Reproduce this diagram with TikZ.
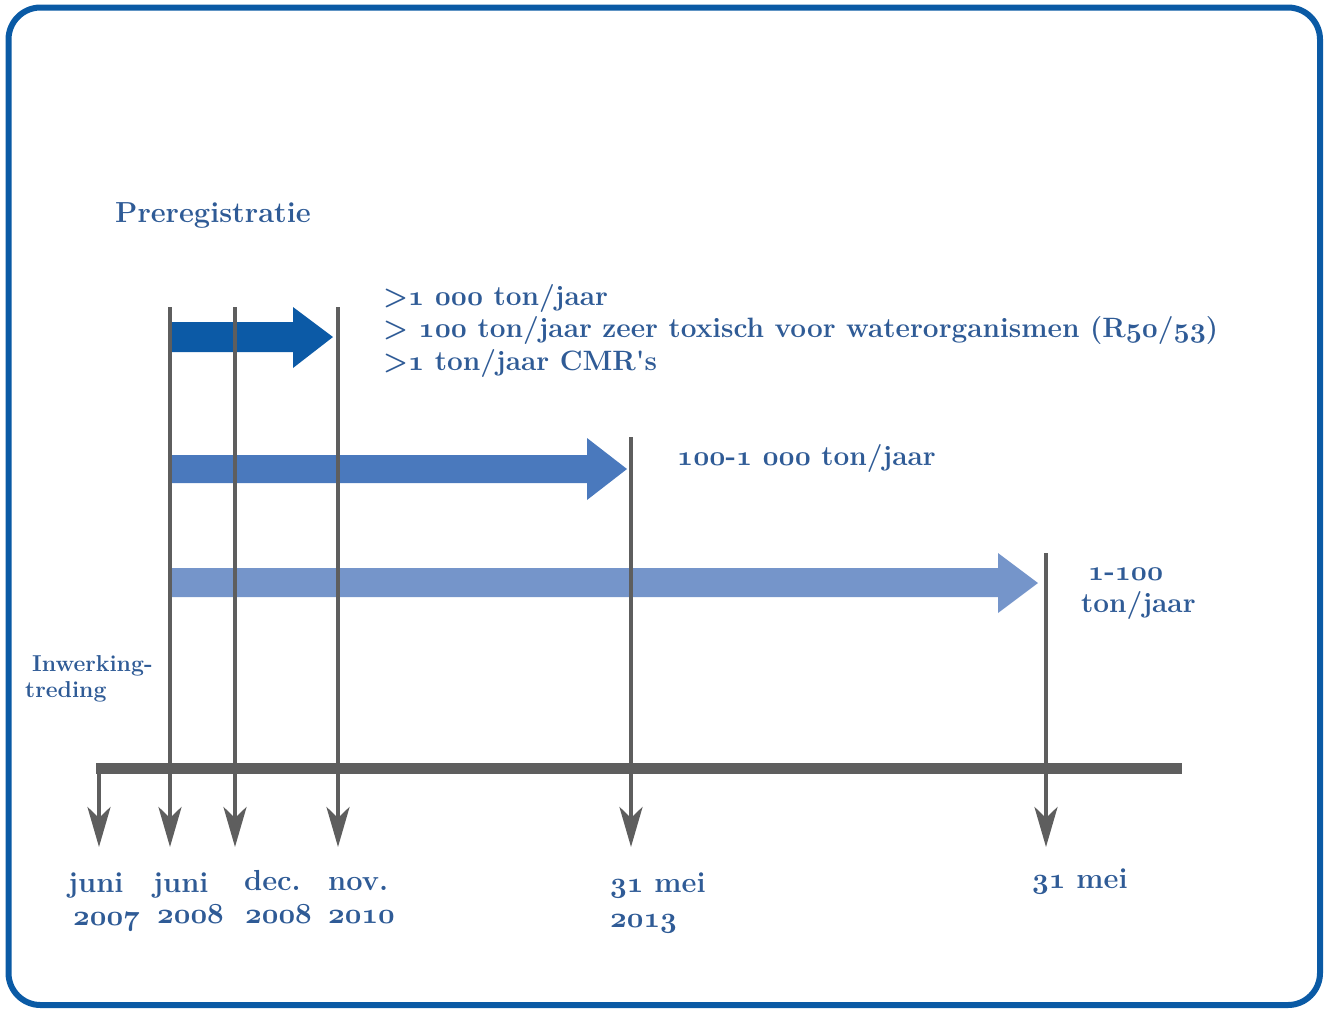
\documentclass[tikz,border=0pt]{standalone}
\usetikzlibrary{arrows.meta}
\DeclareFontFamily{OML}{osfb}{}
\DeclareFontShape{OML}{osfb}{b}{it}{<->cmmib10}{}
\newcommand\od[1]{{\fontencoding{OML}\fontfamily{osfb}\fontseries{b}\fontshape{it}\selectfont #1}}
\definecolor{frameblue}{HTML}{0A5AA5}
\definecolor{txtblue}{HTML}{2F5B96}
\definecolor{arrA}{HTML}{0C5AA6}
\definecolor{arrB}{HTML}{4A79BD}
\definecolor{arrC}{HTML}{7595CA}
\definecolor{axisgray}{HTML}{5E5E5E}
\tikzset{
  txt/.style={text=txtblue, font=\bfseries\fontsize{28}{32}\selectfont, inner sep=0pt, anchor=base west},
  datetxt/.style={txt, font=\bfseries\fontsize{29}{33}\selectfont},
  smalltxt/.style={txt, font=\bfseries\fontsize{23}{27}\selectfont},
  bigtxt/.style={txt, font=\bfseries\fontsize{29}{33}\selectfont},
  tick/.style={draw=axisgray, line width=4.5pt},
  tickarrow/.style={tick, -{Stealth[length=40pt, width=23pt, inset=11pt]}},
}
\begin{document}
\begin{tikzpicture}[x=1pt, y=-1pt]
\useasboundingbox (0,0) rectangle (1327,1010);
% frame
\draw[frameblue, line width=6pt, rounded corners=32pt] (8.5,7.5) rectangle (1320,1005);

% block arrows
\fill[arrA] (172,322) -- (293,322) -- (293,307) -- (333,337) -- (293,368) -- (293,352) -- (172,352) -- cycle;
\fill[arrB] (172,455) -- (587,455) -- (587,438) -- (627,469) -- (587,500) -- (587,483) -- (172,483) -- cycle;
\fill[arrC] (172,568) -- (998,568) -- (998,553) -- (1038,583) -- (998,613) -- (998,597) -- (172,597) -- cycle;

% coordinates
\coordinate (t1) at (170,307);
\coordinate (t2) at (235,307);
\coordinate (t3) at (338,307);
\coordinate (t4) at (631,437);
\coordinate (t5) at (1046,553);
\coordinate (t0) at (99,768);
\coordinate (b0) at (99,847);
\coordinate (b1) at (170,847);
\coordinate (b2) at (235,847);
\coordinate (b3) at (338,847);
\coordinate (b4) at (631,847);
\coordinate (b5) at (1046,847);
\coordinate (axl) at (96,768.5);
\coordinate (axr) at (1182,768.5);

% axis
\draw[axisgray, line width=11pt] (axl) -- (axr);
% ticks
\draw[tickarrow] (t0) -- (b0);
\draw[tickarrow] (t1) -- (b1);
\draw[tickarrow] (t2) -- (b2);
\draw[tickarrow] (t3) -- (b3);
\draw[tickarrow] (t4) -- (b4);
\draw[tickarrow] (t5) -- (b5);

% texts
\node[bigtxt] (prereg) at (115,222) {Preregistratie};
\node[txt] (la) at (383,305) {>\od{1} \od{000} ton/jaar};
\node[txt] (lb) at (383,337) {> \od{100} ton/jaar zeer toxisch voor waterorganismen (R\od{50}/\od{53})};
\node[txt] (lc) at (383,370) {>\od{1} ton/jaar CMR\textquotesingle s};
\node[txt] (mid) at (677,465) {\od{100}-\od{1} \od{000} ton/jaar};
\node[txt] (lowa) at (1088,580) {\od{1}-\od{100}};
\node[txt] (lowb) at (1081,612) {ton/jaar};
\node[smalltxt] (inwa) at (32,671) {Inwerking-};
\node[smalltxt] (inwb) at (25,697) {treding};

\node[datetxt] (d0a) at (68,892) {juni};
\node[datetxt] (d0b) at (73,925) {\od{2007}};
\node[datetxt] (d1a) at (153,892) {juni};
\node[datetxt] (d1b) at (157,923) {\od{2008}};
\node[datetxt] (d2a) at (244,890) {dec.};
\node[datetxt] (d2b) at (245,923) {\od{2008}};
\node[datetxt] (d3a) at (328,890) {nov.};
\node[datetxt] (d3b) at (328,923) {\od{2010}};
\node[datetxt] (d4a) at (610,892) {\od{31} mei};
\node[datetxt] (d4b) at (610,927) {\od{2013}};
\node[datetxt] (d5a) at (1032,888) {\od{31} mei};
\end{tikzpicture}
\end{document}
